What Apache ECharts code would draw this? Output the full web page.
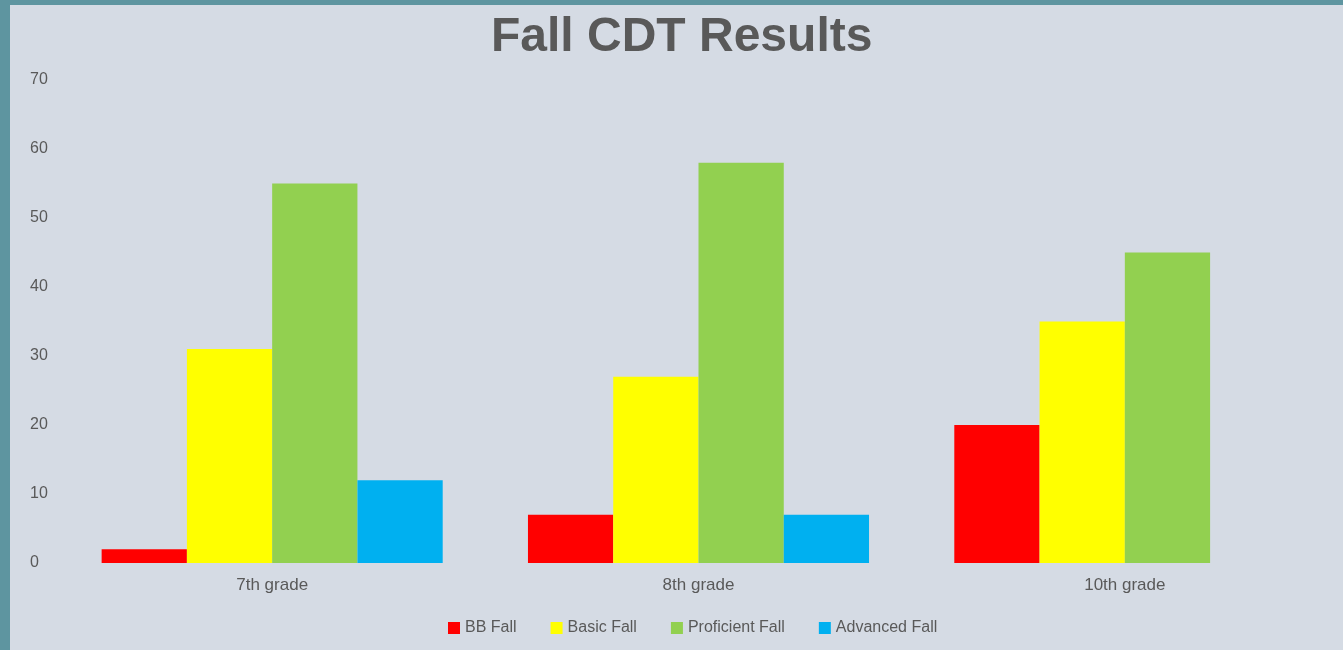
<!DOCTYPE html>
<html>
<head>
<meta charset="utf-8">
<script src="https://cdn.jsdelivr.net/npm/echarts@6/dist/echarts.min.js"></script>
<style>
  html, body { margin: 0; padding: 0; background: #5e95a0; width: 1343px; height: 650px; overflow: hidden; }
  #chart { position: absolute; left: 10px; top: 5px; width: 1333px; height: 645px; background: #d5dbe4; }
</style>
</head>
<body>
<div id="chart"></div>
<script>
const categories = ['7th grade', '8th grade', '10th grade'];
const seriesNames = ['BB Fall', 'Basic Fall', 'Proficient Fall', 'Advanced Fall'];
const bbFall = [2, 7, 20];
const basicFall = [31, 27, 35];
const proficientFall = [55, 58, 45];
const advancedFall = [12, 7, 0];
const colors = ['#ff0000', '#ffff00', '#92d050', '#00b0f0'];

const chart = echarts.init(document.getElementById('chart'));
const values = [bbFall, basicFall, proficientFall, advancedFall];
chart.setOption({
  backgroundColor: 'transparent',
  color: colors,
  title: {
    text: 'Fall CDT Results',
    left: 476,
    top: 4,
    textStyle: { fontFamily: 'Liberation Sans', fontSize: 48, fontWeight: 'bold', color: '#595959' }
  },
  legend: {
    bottom: 9,
    left: 433,
    itemWidth: 12,
    itemHeight: 12,
    itemGap: 34,
    icon: 'rect',
    textStyle: { fontFamily: 'Liberation Sans', fontSize: 16, color: '#595959' },
    data: seriesNames
  },
  grid: { left: 49, right: 5, top: 75, bottom: 87 },
  xAxis: {
    type: 'category',
    data: categories,
    axisLine: { show: false },
    axisTick: { show: false },
    axisLabel: { fontFamily: 'Liberation Sans', fontSize: 17, color: '#595959', margin: 14 }
  },
  yAxis: {
    type: 'value',
    min: 0,
    max: 70,
    interval: 10,
    splitLine: { show: false },
    axisLine: { show: false },
    axisTick: { show: false },
    axisLabel: { fontFamily: 'Liberation Sans', fontSize: 16, color: '#595959', align: 'left', margin: 29 }
  },
  series: seriesNames.map((n, i) => ({
    name: n,
    type: 'bar',
    data: values[i],
    barGap: '0%',
    barCategoryGap: '20%',
    itemStyle: { color: colors[i] }
  }))
});
</script>
</body>
</html>
